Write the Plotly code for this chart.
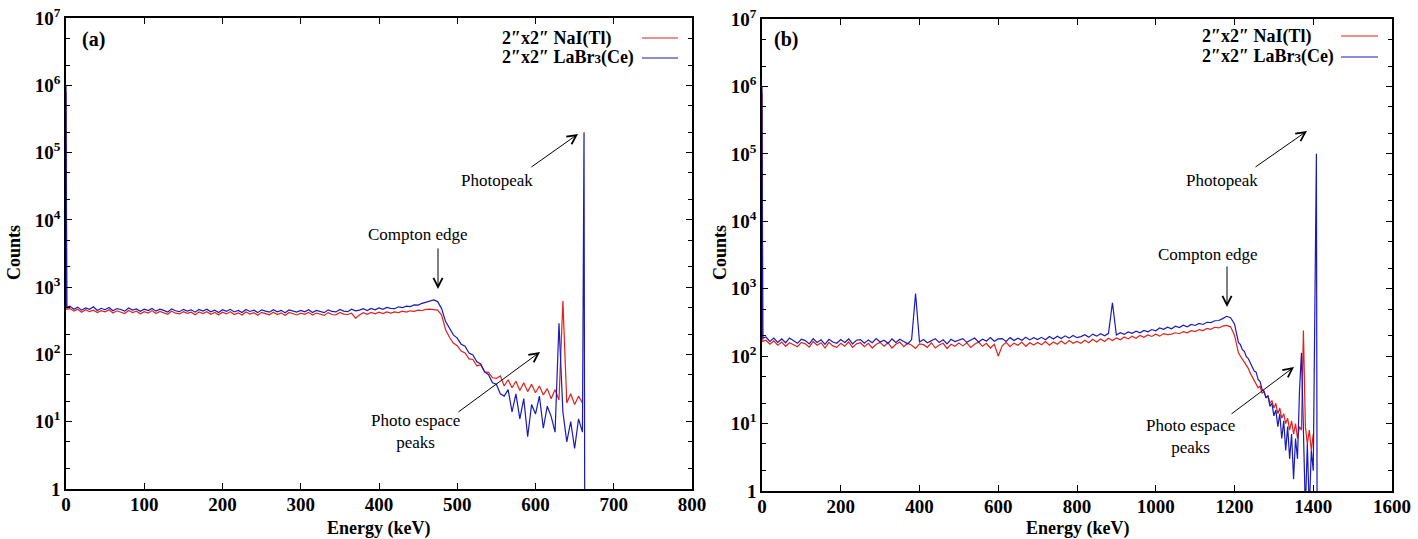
import plotly.graph_objects as go

W, H = 1418, 539
SERIF = "Liberation Serif"
RED = "#e3201b"
BLUE = "#1a1ab8"

# ---------------- panel (a) : 662 keV ----------------
energy_a = [0, 1] + list(range(5, 661, 5))
nai_a = [8.0e5, 470,
         480, 440, 470, 425, 462, 432, 455, 418, 448, 430, 460, 412, 445, 428, 405, 450, 420, 440, 402, 432,
         412, 448, 405, 435, 418, 395, 440, 410, 400, 432, 408, 425, 390, 428, 405, 432, 395, 420, 388, 425,
         400, 430, 392, 415, 385, 428, 398, 418, 382, 422, 405, 388, 425, 392, 415, 380, 420, 400, 386, 410,
         395, 422, 385, 412, 400, 380, 418, 392, 388, 420, 398, 392, 410, 345, 385, 418, 395, 420, 402, 425,
         405, 428, 412, 430, 418, 440, 425, 445, 438, 455, 450, 468, 472, 462,
         455, 385, 235, 180, 148, 135, 112, 105, 86, 84,
         68, 70, 55, 54, 45, 44, 48, 34, 42, 32,
         40, 29, 38, 28, 36, 27, 34, 25, 31, 22,
         30, 21, 620, 19, 26, 18, 24, 19]
energy_a_labr = energy_a + [662, 663]
labr_a = [1.0e6, 500,
          520, 470, 505, 455, 492, 468, 510, 450, 485, 462, 498, 445, 480, 466, 440, 490, 455, 475, 438, 470,
          448, 482, 440, 470, 452, 428, 475, 445, 432, 468, 440, 460, 425, 465, 442, 470, 430, 455, 420, 462,
          438, 468, 428, 452, 420, 465, 435, 455, 418, 460, 440, 425, 462, 430, 452, 415, 458, 438, 425, 450,
          430, 462, 420, 452, 440, 418, 460, 435, 428, 465, 440, 432, 470, 445, 455, 478, 450, 482, 460, 490,
          468, 500, 485, 478, 510, 495, 522, 515, 545, 540, 575, 595, 630, 645,
          610, 480, 310, 240, 195, 175, 142, 132, 105, 98,
          78, 72, 55, 50, 38, 36, 26, 24, 30, 14,
          26, 11, 22, 6, 18, 13, 24, 8, 17, 12,
          7, 290, 14, 5, 10, 4, 11, 7,
          2.0e5, 0.1]

# ---------------- panel (b) : 1408 keV ----------------
energy_b = [0, 2] + list(range(10, 1200, 10)) + list(range(1200, 1405, 5))
nai_b = [8.0e5, 165,
         172, 150, 168, 145, 162, 140, 158, 148, 138, 160,
         152, 136, 165, 145, 158, 132, 160, 142, 135, 155,
         140, 162, 135, 152, 158, 138, 155, 132, 150, 160,
         140, 158, 132, 150, 162, 138, 155, 145, 130, 152,
         148, 135, 158, 132, 146, 155, 130, 150, 140, 156,
         142, 158, 135, 150, 162, 140, 155, 132, 150, 100,
         142, 160, 138, 156, 145, 162, 140, 158, 146, 160,
         148, 165, 145, 162, 150, 168, 152, 170, 155, 165,
         155, 172, 158, 178, 162, 180, 165, 184, 170, 186,
         175, 192, 180, 198, 184, 202, 190, 206, 196, 212,
         198, 216, 208, 212, 222, 215, 230, 222, 238, 232,
         248, 240, 258, 250, 268, 262, 278, 285, 272,
         205, 150, 112, 100, 90, 80, 72, 66, 56, 50,
         44, 40, 34, 36, 28, 30, 24, 26, 20, 22,
         17, 20, 14, 17, 12, 14, 10, 12, 8, 11,
         7, 10, 6, 9, 8, 240, 9, 5, 8, 4, 7]
energy_b_labr = energy_b + [1408, 1410]
labr_b = [1.0e6, 185,
          192, 165, 185, 160, 180, 158, 186, 168, 155, 178,
          170, 152, 182, 160, 175, 150, 178, 162, 155, 176,
          160, 180, 152, 172, 176, 155, 174, 158, 182, 162,
          172, 155, 180, 160, 178, 165, 152, 176, 850, 162,
          176, 158, 172, 182, 160, 175, 152, 178, 165, 172,
          182, 160, 175, 186, 162, 178, 168, 188, 166, 180,
          182, 165, 188, 170, 184, 172, 190, 174, 188, 176,
          190, 175, 196, 180, 198, 182, 200, 185, 202, 188,
          195, 208, 190, 212, 198, 215, 200, 218, 620, 205,
          222, 210, 228, 218, 235, 222, 240, 230, 248, 238,
          262, 250, 268, 255, 278, 265, 288, 272, 295, 285,
          305, 295, 318, 315, 335, 338, 360, 390, 372,
          300, 220, 160, 148, 125, 118, 98, 92, 80, 72,
          60, 58, 45, 42, 32, 30, 24, 26, 18, 20,
          13, 16, 9, 14, 6, 11, 4, 9, 3, 7,
          1.5, 6, 3, 30, 112, 8, 0.5, 5, 0.5, 4, 2,
          1.0e5, 0.1]

y_ticks = [1, 10, 100, 1e3, 1e4, 1e5, 1e6, 1e7]
y_text = ["1"] + ["10<sup>%d</sup>" % k for k in range(1, 8)]
y_minor = [m * 10 ** k for k in range(7) for m in (2, 5)]


def fx(x):
    return x / W


def fy(y):
    return 1 - y / H


fig = go.Figure()
fig.add_trace(go.Scatter(x=energy_a, y=nai_a, mode="lines", line=dict(color=RED, width=1.2),
                         xaxis="x", yaxis="y", showlegend=False))
fig.add_trace(go.Scatter(x=energy_a_labr, y=labr_a, mode="lines", line=dict(color=BLUE, width=1.2),
                         xaxis="x", yaxis="y", showlegend=False))
fig.add_trace(go.Scatter(x=energy_b, y=nai_b, mode="lines", line=dict(color=RED, width=1.2),
                         xaxis="x2", yaxis="y2", showlegend=False))
fig.add_trace(go.Scatter(x=energy_b_labr, y=labr_b, mode="lines", line=dict(color=BLUE, width=1.2),
                         xaxis="x2", yaxis="y2", showlegend=False))

axis_style = dict(showline=True, linecolor="black", linewidth=1.5, mirror="ticks",
                  ticks="inside", ticklen=6, tickwidth=1.2, tickcolor="black",
                  showgrid=False, zeroline=False, automargin=False,
                  tickfont=dict(family=SERIF, size=19, color="black", weight="bold"))
yminor = dict(tickvals=y_minor, ticks="inside", ticklen=4, tickwidth=1, tickcolor="black")

fig.update_layout(
    width=W, height=H, margin=dict(l=0, r=0, t=0, b=0),
    paper_bgcolor="white", plot_bgcolor="white", showlegend=False,
    xaxis=dict(domain=[fx(66), fx(692)], range=[0, 800], tick0=0, dtick=100, anchor="y",
               ticklabelstandoff=-3, **axis_style),
    yaxis=dict(domain=[fy(489), fy(18)], type="log", range=[0, 7], anchor="x",
               tickmode="array", tickvals=y_ticks, ticktext=y_text, minor=yminor,
               ticklabelstandoff=0, **axis_style),
    xaxis2=dict(domain=[fx(762), fx(1392)], range=[0, 1600], tick0=0, dtick=200, anchor="y2",
                ticklabelstandoff=-3, **axis_style),
    yaxis2=dict(domain=[fy(491), fy(19)], type="log", range=[0, 7], anchor="x2",
                tickmode="array", tickvals=y_ticks, ticktext=y_text, minor=yminor,
                ticklabelstandoff=0, **axis_style),
)

annotations = []
shapes = []


def label(x, y, text, size=17, bold=False, angle=0, anchor="center"):
    annotations.append(dict(xref="paper", yref="paper", x=fx(x), y=fy(y), text=text,
                            showarrow=False, xanchor=anchor, yanchor="middle", textangle=angle,
                            font=dict(family=SERIF, size=size, color="black",
                                      weight="bold" if bold else "normal")))


def arrow(tail, tip):
    annotations.append(dict(xref="paper", yref="paper", x=fx(tip[0]), y=fy(tip[1]), text="",
                            showarrow=True, ax=tail[0] - tip[0], ay=tail[1] - tip[1],
                            arrowhead=5, arrowsize=1.8, arrowwidth=1, arrowcolor="black"))


lab_labr = "2\u2033x2\u2033 LaBr<span style='font-size:13px'>3</span>(Ce)"
lab_nai = "2\u2033x2\u2033 NaI(Tl)"

for (x0, leg_x, line_x, rows, tag, tag_x, counts_x, energy_x) in [
        (66, 500, (642, 678), (38, 58), "(a)", 93, 14, 379),
        (762, 1200, (1341, 1378), (36, 57), "(b)", 786, 720, 1077)]:
    label(tag_x, 40, tag, size=20, bold=True)
    label(leg_x, rows[0], lab_nai, size=18, bold=True, anchor="left")
    label(leg_x, rows[1], lab_labr, size=18, bold=True, anchor="left")
    for yy, col in zip(rows, (RED, BLUE)):
        shapes.append(dict(type="line", xref="paper", yref="paper", x0=fx(line_x[0]), x1=fx(line_x[1]),
                           y0=fy(yy), y1=fy(yy), line=dict(color=col, width=1.2)))
    label(counts_x, 253, "Counts", size=18, bold=True, angle=-90)
    label(energy_x, 528, "Energy (keV)", size=18, bold=True)

# panel (a) notes
label(418, 235, "Compton edge")
arrow((438, 247), (438, 289))
label(497, 181, "Photopeak")
arrow((530, 168), (578, 134))
label(415, 431, "Photo espace<br>peaks")
arrow((457, 413), (540, 352))

# panel (b) notes
label(1208, 254, "Compton edge")
arrow((1227, 265), (1227, 307))
label(1222, 181, "Photopeak")
arrow((1254, 168), (1307, 131))
label(1190, 436, "Photo espace<br>peaks")
arrow((1230, 415), (1294, 367))

fig.update_layout(annotations=annotations, shapes=shapes)
# the page body has a default 8px margin; drop it so the figure fills the window
fig.write_html("out.html", config={"displayModeBar": False},
               post_script="document.body.style.margin='0px';")
